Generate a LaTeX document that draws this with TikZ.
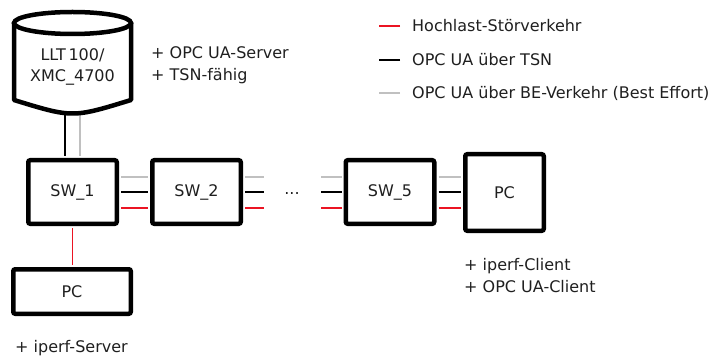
\documentclass[tikz,border=0pt]{standalone}
\usepackage{fontspec}
\setmainfont{DejaVu Sans}
\usetikzlibrary{calc}
\definecolor{abbred}{RGB}{235,20,35}
\definecolor{begray}{RGB}{192,192,192}

\begin{document}
\begin{tikzpicture}[x=1pt,y=-1pt,
      font=\fontsize{16}{21.5}\selectfont,
      every node/.style={text=black!88},
      device/.style={draw,line width=4.5pt,rounded corners=2pt,inner sep=0pt},
      switch/.style={device,minimum width=88.5pt,minimum height=63.5pt},
      note/.style={anchor=west,inner sep=0pt,align=left},
      link/.style={line width=1.3pt,shorten <=2pt,shorten >=2pt},
      hiload/.style={link,draw=abbred},
      tsn/.style={link,draw=black},
      beflow/.style={link,draw=begray}]

  \useasboundingbox (0,0) rectangle (709,358);

  \node[switch] (sw1) at (72.5,192) {SW\_1};
  \node[switch] (sw2) at (196.5,192) {SW\_2};
  \node[switch] (sw5) at (390,192) {SW\_5};
  \node[device,minimum width=78.5pt,minimum height=76.5pt] (pcr) at (504.5,192.5) {PC};
  \node[device,minimum width=117.5pt,minimum height=44.5pt] (pcb) at (72,291.5) {PC};

  \coordinate (lltbase) at (72.5,104);
  \coordinate (gapl) at (266,192);
  \coordinate (gapr) at (319,192);
  \node (dots) at (292,194) {...};

  \draw[tsn] ([xshift=-7.5pt]sw1.north) -- ([xshift=-7.5pt]lltbase);
  \draw[beflow] ([xshift=7.5pt]sw1.north) -- ([xshift=7.5pt]lltbase);

  \draw[line width=4.5pt,line join=round,fill=white]
    (14,23) -- (14,100) .. controls (72.5,118) .. (131,100) -- (131,23);
  \draw[line width=4.5pt,fill=white] (72.5,23) ellipse [x radius=58.5,y radius=11];
  \node[align=center,inner sep=0pt] (llt) at (72.5,67) {LLT\,100/\\XMC\_4700};

  \foreach \dy/\kind in {15/beflow,0/tsn,-16/hiload} {
    \draw[\kind] ([yshift=\dy pt]sw1.east) -- ([yshift=\dy pt]sw2.west);
    \draw[\kind] ([yshift=\dy pt]sw2.east) -- ([yshift=\dy pt]sw2.east -| gapl);
    \draw[\kind] ([yshift=\dy pt]sw5.west -| gapr) -- ([yshift=\dy pt]sw5.west);
    \draw[\kind] ([yshift=\dy pt]sw5.east) -- ([yshift=\dy pt]sw5.east -| pcr.west);
  }
  \draw[hiload] (sw1.south) -- (sw1.south |- pcb.north);

  \node[note] (srvnote) at (151,65) {+ OPC UA-Server\\+ TSN-fähig};
  \node[note] (clinote) at (464,275.5) {+ iperf-Client\\+ OPC UA-Client};
  \node[note] (iperfnote) at (15,348) {+ iperf-Server};

  \foreach \y/\kind/\txt [count=\i] in {26/hiload/Hochlast-Störverkehr,
      60/tsn/OPC UA über TSN,93/beflow/OPC UA über BE-Verkehr (Best Effort)} {
    \node[note] (leg\i) at (412,\y) {\txt};
    \draw[\kind,shorten <=0pt,shorten >=0pt] ([xshift=-12pt]leg\i.west) -- ++(-21,0);
  }
\end{tikzpicture}
\end{document}
